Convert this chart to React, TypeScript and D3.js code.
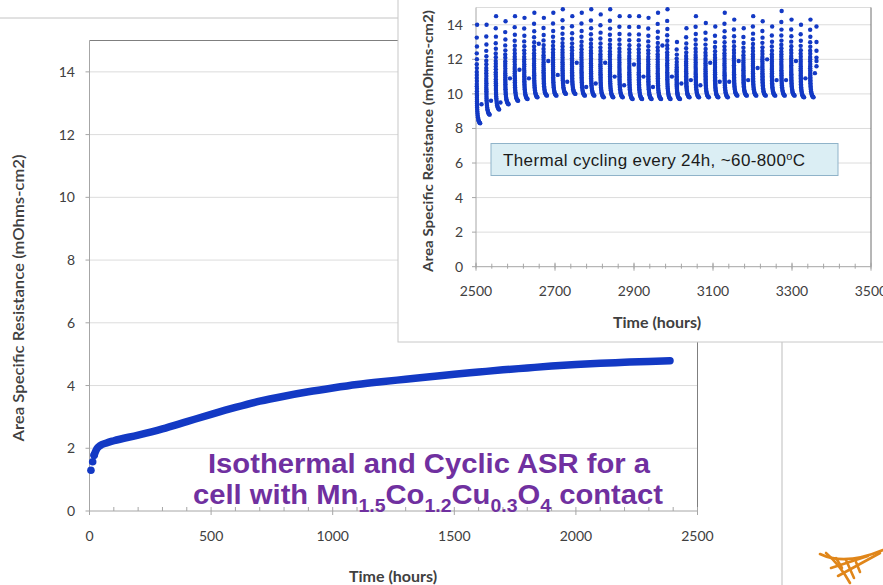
import React from "react";
import * as d3 from "d3";

// main (isothermal) run, hours vs ASR
const mainTime = [6, 13, 19, 30, 43, 70, 100, 200, 300, 400, 500, 600, 700, 800, 900, 1000, 1100, 1200, 1300, 1400, 1500, 1600, 1700, 1800, 1900, 2000, 2100, 2200, 2300, 2387];
const mainAsr = [1.30, 1.57, 1.78, 1.98, 2.08, 2.17, 2.24, 2.42, 2.62, 2.85, 3.08, 3.30, 3.50, 3.66, 3.80, 3.92, 4.03, 4.12, 4.20, 4.28, 4.36, 4.43, 4.50, 4.56, 4.62, 4.67, 4.71, 4.74, 4.77, 4.79];

// inset: one column per 24h thermal cycle
const cycleStart = [2502, 2526, 2550, 2574, 2598, 2622, 2647, 2671, 2695, 2719, 2743, 2767, 2791, 2815, 2839, 2863, 2888, 2912, 2936, 2960, 2984, 3008, 3032, 3056, 3081, 3105, 3129, 3153, 3177, 3201, 3225, 3249, 3273, 3298, 3322, 3346];
const cycleTop = [14.0, 14.0, 14.5, 14.2, 14.5, 14.4, 14.7, 14.4, 14.7, 14.9, 14.5, 14.7, 14.9, 14.6, 14.9, 14.5, 14.5, 14.5, 14.4, 14.7, 14.9, 13.0, 13.8, 14.5, 14.1, 13.9, 14.7, 14.3, 13.8, 14.5, 14.2, 13.9, 14.8, 14.3, 14.0, 14.3];
const cycleLow = [8.3, 8.8, 9.1, 9.4, 9.6, 9.7, 9.8, 9.9, 9.9, 10.0, 10.0, 9.9, 9.9, 9.8, 9.8, 9.8, 9.7, 9.7, 9.7, 9.7, 9.7, 9.7, 9.8, 9.8, 9.8, 9.8, 9.8, 9.9, 9.9, 9.9, 9.9, 9.9, 9.9, 9.9, 9.8, 9.8];
const cycleMid = [9.4, 9.6, 9.5, 10.9, 11.4, 10.9, 12.9, 11.9, 11.1, 10.7, 11.8, 10.4, 10.6, 11.8, 11.0, 10.5, 11.7, 11.0, 10.4, 12.8, 11.0, 10.6, 10.8, 10.5, 11.8, 10.7, 10.7, 11.9, 10.8, 11.5, 12.0, 10.8, 10.8, 11.9, 10.9, 11.2];
// shape of one cycle: hours after the cycle start, and fraction between low and top
const profileDt = [0.8, 0, 0.4, 0, 0.3, 0, 0.2, 0, 0.1, 0, 0.2, 0.1, 0, 0.3, 0.2, 0.1, 0.4, 0.3, 0.5, 0.4, 0.6, 0.7, 0.9, 1.1, 1.4, 1.8, 2.3, 2.9, 3.6, 4.4, 5.3, 6.3, 7.4, 8.6];
const profileFrac = [1.0, 0.87, 0.78, 0.71, 0.65, 0.60, 0.56, 0.52, 0.49, 0.46, 0.43, 0.40, 0.375, 0.35, 0.325, 0.30, 0.28, 0.26, 0.24, 0.22, 0.20, 0.18, 0.16, 0.14, 0.12, 0.10, 0.08, 0.06, 0.045, 0.03, 0.02, 0.01, 0.004, 0];
const partialTime = 3362;
const partialAsr = [13.9, 13.0, 12.5, 12.1, 11.9, 11.6];

const W = 883, H = 585;
const BLUE = "#1339c4";
const AX = "#404040";
const GRID = "#dcdcdc";
const FONT = "Lato, 'Open Sans', sans-serif";
const ARIAL = "'Liberation Sans', Arial, sans-serif";

export default function App() {
  const xMain = d3.scaleLinear().domain([0, 2500]).range([89.5, 697.5]);
  const yMain = d3.scaleLinear().domain([0, 15]).range([511, 40.5]);
  const xIn = d3.scaleLinear().domain([2500, 3500]).range([476, 871]);
  const yIn = d3.scaleLinear().domain([0, 15]).range([266.7, 7.5]);

  const mainLine = d3.line<number>()
    .x((_, i) => xMain(mainTime[i + 2]))
    .y(d => yMain(d))
    .curve(d3.curveMonotoneX);

  const yTicks = yMain.ticks(7);
  const xMainTicks = xMain.ticks(5);
  const xMainMinor = xMain.ticks(25);
  const xInTicks = d3.range(2500, 3501, 200);
  const xInMinor = d3.range(2500, 3501, 40);

  const insetDots: { t: number; v: number }[] = [];
  cycleStart.forEach((t0, i) => {
    profileDt.forEach((dt, j) => {
      insetDots.push({ t: t0 + dt, v: cycleLow[i] + profileFrac[j] * (cycleTop[i] - cycleLow[i]) });
    });
    insetDots.push({ t: t0 + 12, v: cycleMid[i] });
  });
  partialAsr.forEach(v => insetDots.push({ t: partialTime, v }));

  return (
    <svg width={W} height={H} style={{ position: "absolute", left: 0, top: 0, background: "#fff" }}>
      {/* slide frame bits */}
      <line x1={0} x2={398} y1={18} y2={18} stroke="#c4c4c4" />
      <line x1={782} x2={782} y1={342} y2={H} stroke="#bdbdbd" />

      {/* ---- main chart ---- */}
      {yTicks.filter(d => d > 0).map(d => (
        <line key={"g" + d} x1={xMain(0)} x2={xMain(2500)} y1={yMain(d)} y2={yMain(d)} stroke={GRID} />
      ))}
      <line x1={xMain(0)} x2={xMain(2500)} y1={yMain(15)} y2={yMain(15)} stroke="#7f7f7f" />
      <line x1={xMain(2500)} x2={xMain(2500)} y1={yMain(15)} y2={yMain(0)} stroke="#7f7f7f" />
      <line x1={xMain(0)} x2={xMain(0)} y1={yMain(15)} y2={yMain(0)} stroke="#a6a6a6" />
      <line x1={xMain(0)} x2={xMain(2500)} y1={yMain(0)} y2={yMain(0)} stroke="#a6a6a6" />
      {yTicks.map(d => (
        <g key={"yt" + d}>
          <line x1={xMain(0) - 4} x2={xMain(0)} y1={yMain(d)} y2={yMain(d)} stroke="#a6a6a6" />
          <text x={75} y={yMain(d) + 5} textAnchor="end" fontSize={14} fontFamily={FONT} fill={AX}>{d}</text>
        </g>
      ))}
      {xMainMinor.map(d => (
        <line key={"xm" + d} x1={xMain(d)} x2={xMain(d)} y1={yMain(0) - 4} y2={yMain(0)} stroke="#a6a6a6" />
      ))}
      {xMainTicks.map(d => (
        <g key={"xt" + d}>
          <line x1={xMain(d)} x2={xMain(d)} y1={yMain(0)} y2={yMain(0) + 4} stroke="#a6a6a6" />
          <text x={xMain(d)} y={541} textAnchor="middle" fontSize={14} fontFamily={FONT} fill={AX}>{d}</text>
        </g>
      ))}
      <text transform="translate(24,298) rotate(-90)" textAnchor="middle" fontSize={15} fontWeight={600} fontFamily={FONT} fill={AX} textLength={287} lengthAdjust="spacingAndGlyphs">
        Area Specific Resistance (mOhms-cm2)
      </text>
      <text x={393} y={582} textAnchor="middle" fontSize={16} fontWeight="bold" fontFamily={FONT} fill={AX}>Time (hours)</text>

      <path d={mainLine(mainAsr.slice(2)) || ""} fill="none" stroke={BLUE} strokeWidth={7.5} strokeLinecap="round" strokeLinejoin="round" />
      {mainTime.slice(0, 3).map((t, i) => (
        <circle key={"m" + i} cx={xMain(t)} cy={yMain(mainAsr[i])} r={3.8} fill={BLUE} />
      ))}

      {/* ---- inset chart ---- */}
      <rect x={398} y={-1} width={W - 397} height={343} fill="#fff" stroke="#c8c8c8" />
      {[...yTicks.filter(d => d > 0), 15].map(d => (
        <line key={"ig" + d} x1={xIn(2500)} x2={xIn(3500)} y1={yIn(d)} y2={yIn(d)} stroke={GRID} />
      ))}
      <line x1={xIn(2500)} x2={xIn(2500)} y1={yIn(15)} y2={yIn(0)} stroke="#a6a6a6" />
      <line x1={xIn(3500)} x2={xIn(3500)} y1={yIn(15)} y2={yIn(0)} stroke="#6f6f6f" />
      <line x1={xIn(2500)} x2={xIn(3500)} y1={yIn(0)} y2={yIn(0)} stroke="#a6a6a6" />
      {yTicks.map(d => (
        <g key={"iyt" + d}>
          <line x1={xIn(2500) - 4} x2={xIn(2500)} y1={yIn(d)} y2={yIn(d)} stroke="#a6a6a6" />
          <text x={463} y={yIn(d) + 5} textAnchor="end" fontSize={14} fontFamily={FONT} fill={AX}>{d}</text>
        </g>
      ))}
      {xInMinor.map(d => (
        <line key={"ixm" + d} x1={xIn(d)} x2={xIn(d)} y1={yIn(0) - 3} y2={yIn(0) + 2} stroke="#a6a6a6" />
      ))}
      {xInTicks.map(d => (
        <g key={"ixt" + d}>
          <line x1={xIn(d)} x2={xIn(d)} y1={yIn(0) - 4} y2={yIn(0) + 4} stroke="#a6a6a6" />
          <text x={xIn(d)} y={296} textAnchor="middle" fontSize={14} fontFamily={FONT} fill={AX}>{d}</text>
        </g>
      ))}
      <text transform="translate(433,141) rotate(-90)" textAnchor="middle" fontSize={14} fontWeight="bold" fontFamily={FONT} fill={AX} textLength={262} lengthAdjust="spacingAndGlyphs">
        Area Specific Resistance (mOhms-cm2)
      </text>
      <text x={657} y={328} textAnchor="middle" fontSize={16} fontWeight="bold" fontFamily={FONT} fill={AX}>Time (hours)</text>

      {insetDots.map((d, i) => (
        <circle key={"d" + i} cx={xIn(d.t)} cy={yIn(d.v)} r={2.2} fill={BLUE} />
      ))}

      <rect x={491} y={143.5} width={347} height={32} fill="#dbeef4" stroke="#8fb3c9" />
      <text x={503} y={166} fontSize={17} fontFamily={ARIAL} fill="#1a1a1a" textLength={302}>
        Thermal cycling every 24h, ~60-800<tspan fontSize={11} dy={-6}>o</tspan><tspan dy={6}>C</tspan>
      </text>

      {/* ---- annotation ---- */}
      <g fontFamily={ARIAL} fontWeight="bold" fill="#7030a0" textAnchor="middle">
        <text x={429} y={473} fontSize={27} textLength={442} lengthAdjust="spacingAndGlyphs">Isothermal and Cyclic ASR for a</text>
        <text x={428} y={504} fontSize={27} textLength={470} lengthAdjust="spacingAndGlyphs">
          cell with Mn<tspan fontSize={18} dy={8}>1.5</tspan><tspan dy={-8}>Co</tspan><tspan fontSize={18} dy={8}>1.2</tspan><tspan dy={-8}>Cu</tspan><tspan fontSize={18} dy={8}>0.3</tspan><tspan dy={-8}>O</tspan><tspan fontSize={18} dy={8}>4</tspan><tspan dy={-8}> contact</tspan>
        </text>
      </g>

      {/* ---- logo ---- */}
      <g stroke="#e0861a" strokeWidth={2.6} fill="none" strokeLinecap="round">
        <path d="M820,554 Q845,566 883,550" />
        <path d="M826,553 Q840,565 850,583" />
        <path d="M831,568 L868,556" />
        <path d="M838,576 L880,553" />
        <path d="M836,558 L842,568" />
        <path d="M846,560 L854,578" />
        <path d="M856,562 L860,572" />
      </g>
    </svg>
  );
}
